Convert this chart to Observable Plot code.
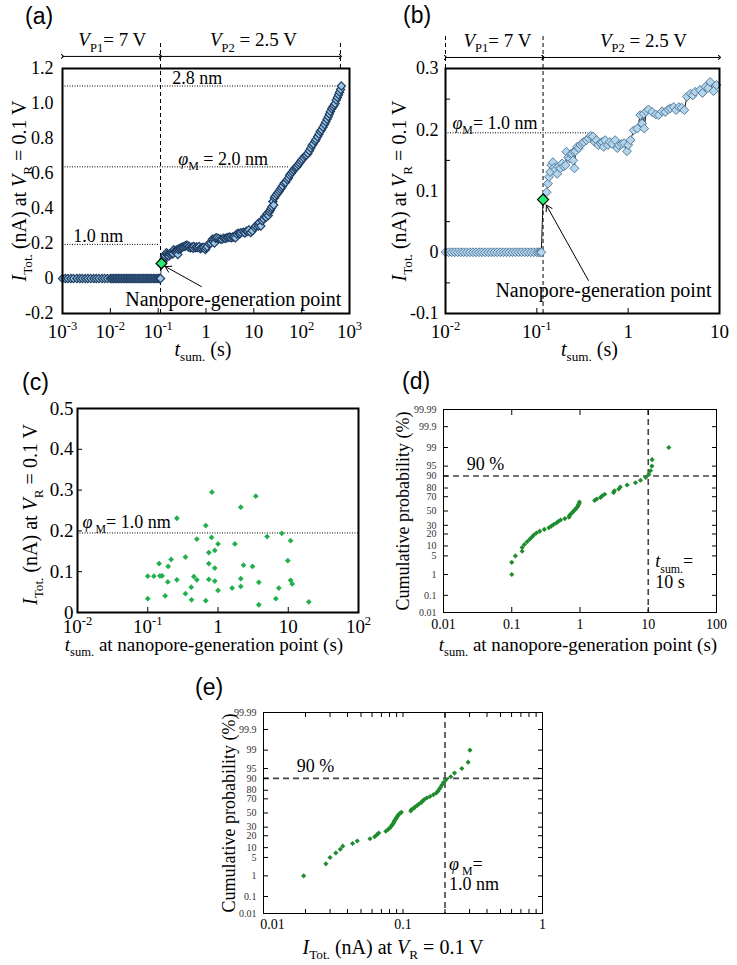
<!DOCTYPE html>
<html><head><meta charset="utf-8">
<script src="https://cdn.jsdelivr.net/npm/d3@7"></script>
<script src="https://cdn.jsdelivr.net/npm/@observablehq/plot@0.6"></script>
<style>
body{margin:0;background:#fff;}
#fig{position:relative;width:737px;height:965px;overflow:hidden;background:#fff;}
.panel{position:absolute;}
.panel svg{overflow:visible;}
.panel svg text{font-family:"Liberation Serif","Times New Roman",serif !important;}
.plabel{position:absolute;font-family:"Liberation Sans",Arial,sans-serif;font-size:23px;line-height:1;color:#000;}
</style></head><body><div id="fig"></div>
<script>
const SERIF = '"Liberation Serif","Times New Roman",serif';

// ---------- (a)/(b): time series of I_Tot. vs t_sum. ----------
const zeroTimes = [0.001,0.00115,0.0013,0.0015,0.0017,0.002,0.0023,0.0026,0.003,0.0034,0.0039,0.0045,0.0051,0.0058,0.0067,0.0076,0.0087,
  0.0100,0.0108,0.0117,0.0126,0.0136,0.0147,0.0158,0.0171,0.0185,0.0200,0.0216,0.0233,0.0251,0.0271,0.0293,0.0316,0.0341,0.0368,0.0398,
  0.0430,0.0464,0.0501,0.0541,0.0584,0.0631,0.0681,0.0736,0.0794,0.0858,0.0926,0.1000,0.1050,0.1090,0.1120];
const genTime = 0.117;
const genCurrent = 0.086;
const riseTimes = [0.128,0.132,0.136,0.14,0.145,0.15,0.155,0.16,0.167,0.173,0.181,0.189,0.197,0.206,0.211,0.22,0.229,0.236,0.243,0.25,
  0.254,0.258,0.265,0.276,0.288,0.30,0.313,0.326,0.35,0.37,0.39,0.413,0.43,0.45,0.47,0.5,0.52,0.54,0.56,0.6,0.63,0.667,0.72,0.76,0.79,
  0.85,0.9,0.97,1.0,1.06,1.15,1.26,1.36,1.42,1.48,1.5,1.58,1.67,1.83,2.0,2.16,2.35,2.55,2.75,2.9,3.15,3.35,3.6,3.85,4.12,4.4,4.8,5.1,
  5.4,6.1,6.5,7.0,7.5,7.9,8.6,9.3];
const riseCurrents = [0.098,0.112,0.123,0.131,0.142,0.147,0.138,0.135,0.128,0.14,0.137,0.145,0.14,0.142,0.164,0.155,0.153,0.16,0.161,0.15,
  0.164,0.137,0.165,0.172,0.17,0.175,0.178,0.18,0.183,0.186,0.19,0.189,0.18,0.183,0.175,0.178,0.18,0.172,0.183,0.175,0.18,0.177,0.183,0.17,0.175,
  0.177,0.178,0.165,0.175,0.183,0.199,0.202,0.224,0.21,0.226,0.202,0.23,0.233,0.229,0.225,0.224,0.23,0.229,0.233,0.235,0.237,0.232,0.237,0.236,0.232,0.254,0.259,0.256,
  0.262,0.265,0.26,0.27,0.268,0.278,0.263,0.273];
const lateTimes = [10.5,11,12,12.5,13,14,15,16,17,18,19,20,21,22,23,24,25,26,27,28,30,32,34,36,38,40,43,46,50,53,56,60,64,68,72,
  76,80,85,90,96,102,110,118,126,135,145,155,165,175,190,200,215,230,245,260,280,300,320,340,360,380,400,425,450,475,500,530,560,590,620,650,675];
const lateCurrents = [0.29,0.30,0.31,0.30,0.32,0.30,0.33,0.34,0.355,0.35,0.37,0.36,0.38,0.39,0.40,0.41,0.44,0.42,0.46,0.47,0.48,0.49,0.50,0.51,0.52,
  0.53,0.545,0.55,0.565,0.575,0.59,0.60,0.61,0.62,0.63,0.635,0.64,0.65,0.66,0.67,0.68,0.69,0.70,0.705,0.715,0.73,0.745,0.76,0.77,0.785,0.795,
  0.81,0.825,0.84,0.85,0.865,0.88,0.895,0.91,0.925,0.94,0.955,0.97,0.98,0.99,1.0,1.02,1.035,1.05,1.065,1.08,1.10];

// pore-diameter guide levels
const aGuideLevels = [0.195, 0.638, 1.1];
const aGuideEnds = [0.11, 55, 646];
const aGuideLabels = ["1.0 nm", "*φ*_{M} = 2.0 nm", "2.8 nm"];
const aGuideLabelX = [0.00168, 0.263, 0.197];
const phaseLabels = ["*V*_{P1}= 7 V", "*V*_{P2} = 2.5 V"];

const aXTicks = [1e-3, 1e-2, 1e-1, 1, 10, 100, 1000];
const aXLabels = ["10^{-3}", "10^{-2}", "10^{-1}", "1", "10", "10^{2}", "10^{3}"];
const aYTicks = [-0.2, 0, 0.2, 0.4, 0.6, 0.8, 1.0, 1.2];
const aYLabels = ["-0.2", "0", "0.2", "0.4", "0.6", "0.8", "1.0", "1.2"];
const bXTicks = [0.01, 0.1, 1, 10];
const bXLabels = ["10^{-2}", "10^{-1}", "1", "10"];
const bYTicks = [-0.1, 0, 0.1, 0.2, 0.3];
const bYLabels = ["-0.1", "0", "0.1", "0.2", "0.3"];
const bYMinor = [-0.05, 0.05, 0.15, 0.25];

// ---------- (c): scatter at nanopore-generation point ----------
const cTimes = [0.1,0.1,0.122,0.149,0.16,0.145,0.195,0.215,0.193,0.177,0.26,0.26,0.344,0.344,0.416,0.453,0.5,0.42,0.5,0.67,0.67,0.82,0.81,0.74,0.74,
  0.74,0.9,0.9,0.9,1.0,1.0,1.59,1.74,2.11,2.11,2.11,2.31,3.1,3.45,3.81,3.81,5.0,7.35,6.66,8.1,9.86,10.8,10.8,11.4,19.6];
const cCurrents = [0.034,0.089,0.089,0.09,0.09,0.12,0.113,0.13,0.075,0.041,0.08,0.231,0.136,0.046,0.062,0.088,0.08,0.031,0.18,0.213,0.029,0.295,0.184,0.147,0.12,
  0.081,0.152,0.109,0.077,0.168,0.054,0.06,0.168,0.258,0.083,0.064,0.116,0.113,0.285,0.074,0.019,0.186,0.06,0.034,0.194,0.127,0.176,0.079,0.07,0.026];
const cXTicks = [0.01, 0.1, 1, 10, 100];
const cXLabels = ["10^{-2}", "10^{-1}", "1", "10", "10^{2}"];
const cYTicks = [0, 0.1, 0.2, 0.3, 0.4, 0.5];
const cYLabels = ["0", "0.1", "0.2", "0.3", "0.4", "0.5"];

// ---------- (d)/(e): cumulative probability plots ----------
const rankProbs = [1,3,5,7,9,11,13,15,17,19,21,23,25,27,29,31,33,35,37,39,41,43,45,47,49,51,53,55,57,59,61,63,65,67,69,71,73,75,77,79,81,83,85,87,89,91,93,95,97,99];
const dTimes = [0.1,0.1,0.113,0.142,0.142,0.153,0.168,0.183,0.198,0.21,0.23,0.257,0.3,0.35,0.38,0.41,0.45,0.48,0.52,0.6,0.69,0.7,0.72,0.76,0.79,
  0.83,0.86,0.9,0.93,0.95,0.97,0.98,1.64,1.76,2.0,2.1,2.3,3.1,3.2,3.7,3.9,4.9,6.5,7.7,9.2,10.2,10.8,11.3,11.4,20];
const eCurrents = [0.0194,0.028,0.030,0.033,0.0355,0.037,0.0435,0.047,0.058,0.0626,0.065,0.067,0.0753,0.0781,0.0805,0.082,0.0837,0.085,0.0862,0.087,
  0.0885,0.0899,0.091,0.0925,0.0944,0.0974,0.1137,0.115,0.1196,0.122,0.1266,0.13,0.135,0.138,0.142,0.148,0.156,0.165,0.173,0.178,
  0.182,0.186,0.19,0.195,0.203,0.22,0.234,0.264,0.293,0.302];
const probTicks = [0.01, 0.1, 1, 5, 10, 20, 30, 50, 70, 80, 90, 95, 99, 99.9, 99.99];
const probLabels = ["0.01", "0.1", "1", "5", "10", "20", "30", "50", "70", "80", "90", "95", "99", "99.9", "99.99"];
const dXTicks = [0.01, 0.1, 1, 10, 100];
const dXLabels = ["0.01", "0.1", "1", "10", "100"];
const eXTicks = [0.01, 0.1, 1];
const eXLabels = ["0.01", "0.1", "1"];
const eXMinor = [0.02,0.03,0.04,0.05,0.06,0.07,0.08,0.09,0.2,0.3,0.4,0.5,0.6,0.7,0.8,0.9];

// ---------- helpers ----------
function probit(p) {
  const a=[-3.969683028665376e+01,2.209460984245205e+02,-2.759285104469687e+02,1.383577518672690e+02,-3.066479806614716e+01,2.506628277459239e+00];
  const b=[-5.447609879822406e+01,1.615858368580409e+02,-1.556989798598866e+02,6.680131188771972e+01,-1.328068155288572e+01];
  const c=[-7.784894002430293e-03,-3.223964580411365e-01,-2.400758277161838e+00,-2.549671010229236e+00,4.374664141464968e+00,2.938163982698783e+00];
  const d=[7.784695709041462e-03,3.224671290700398e-01,2.445134137142996e+00,3.754408661907416e+00];
  const pl = 0.02425;
  let q, r;
  if (p < pl) { q = Math.sqrt(-2*Math.log(p)); return (((((c[0]*q+c[1])*q+c[2])*q+c[3])*q+c[4])*q+c[5])/((((d[0]*q+d[1])*q+d[2])*q+d[3])*q+1); }
  if (p <= 1 - pl) { q = p - 0.5; r = q*q; return (((((a[0]*r+a[1])*r+a[2])*r+a[3])*r+a[4])*r+a[5])*q/(((((b[0]*r+b[1])*r+b[2])*r+b[3])*r+b[4])*r+1); }
  q = Math.sqrt(-2*Math.log(1-p)); return -(((((c[0]*q+c[1])*q+c[2])*q+c[3])*q+c[4])*q+c[5])/((((d[0]*q+d[1])*q+d[2])*q+d[3])*q+1);
}
const pz = v => probit(v / 100);
const fmt = (ticks, labels) => { const m = new Map(ticks.map((t, i) => [t, labels[i]])); return d => m.get(d) ?? ""; };

function richify(svg) {
  svg.querySelectorAll("text").forEach(t => {
    const s = t.textContent;
    if (!/[*_^]/.test(s)) return;
    const fs = parseFloat(getComputedStyle(t).fontSize) || 16;
    const segs = [];
    let buf = "", italic = false, i = 0;
    const flush = () => { if (buf) { segs.push({text: buf, italic, mode: 0}); buf = ""; } };
    while (i < s.length) {
      const ch = s[i];
      if (ch === "*") { flush(); italic = !italic; i++; }
      else if ((ch === "_" || ch === "^") && s[i+1] === "{") {
        flush();
        const j = s.indexOf("}", i);
        segs.push({text: s.slice(i+2, j), italic: false, mode: ch === "_" ? 1 : -1});
        i = j + 1;
      } else { buf += ch; i++; }
    }
    flush();
    while (t.firstChild) t.removeChild(t.firstChild);
    let off = 0;
    for (const sg of segs) {
      const ts = document.createElementNS("http://www.w3.org/2000/svg", "tspan");
      const target = sg.mode === 1 ? 0.28*fs : sg.mode === -1 ? -0.42*fs : 0;
      if (target !== off) ts.setAttribute("dy", (target - off).toFixed(2));
      off = target;
      if (sg.mode) ts.setAttribute("font-size", (0.66*fs).toFixed(2));
      if (sg.italic) ts.setAttribute("font-style", "italic");
      ts.textContent = sg.text;
      t.appendChild(ts);
    }
  });
}
const fig = document.getElementById("fig");
function place(svg, left, top) {
  const div = document.createElement("div");
  div.className = "panel"; div.style.left = left + "px"; div.style.top = top + "px";
  div.appendChild(svg); fig.appendChild(div); richify(svg);
}
function panelLabel(txt, left, top) {
  const div = document.createElement("div");
  div.className = "plabel"; div.style.left = left + "px"; div.style.top = top + "px";
  div.textContent = txt; fig.appendChild(div);
}
const baseStyle = {fontFamily: SERIF, color: "#000", background: "transparent", overflow: "visible"};
const yTitle = (txt, dx, size, dy = 0) => Plot.text([txt], {frameAnchor: "left", dx, dy, rotate: -90, textAnchor: "middle", lineAnchor: "middle", text: d => d, fontSize: size});
const xTitle = (txt, dx, dy, size) => Plot.text([txt], {frameAnchor: "bottom", dx, dy, textAnchor: "middle", lineAnchor: "bottom", text: d => d, fontSize: size});

// ---------- build series ----------
const series = [
  ...zeroTimes.map(t => ({t, I: 0})),
  {t: genTime, I: genCurrent},
  ...riseTimes.map((t, i) => ({t, I: riseCurrents[i]})),
  ...lateTimes.map((t, i) => ({t, I: lateCurrents[i]}))
].sort((p, q) => p.t - q.t);
const gen = [{t: genTime, I: genCurrent}];
const aGuides = aGuideLevels.map((y, i) => ({y, end: aGuideEnds[i], label: aGuideLabels[i], lx: aGuideLabelX[i]}));

// ---------- (a) ----------
const plotA = Plot.plot({
  width: 370, height: 362, marginLeft: 62, marginRight: 21, marginTop: 68, marginBottom: 49,
  style: baseStyle,
  x: {type: "log", domain: [1e-3, 1e3]},
  y: {type: "linear", domain: [-0.2, 1.2]},
  marks: [
    Plot.ruleY(aGuides, {y: "y", x1: 1e-3, x2: "end", stroke: "#000", strokeWidth: 1, strokeDasharray: "1,1.5"}),
    Plot.text(aGuides, {x: "lx", y: "y", text: "label", textAnchor: "start", lineAnchor: "bottom", dy: -2, fontSize: 18}),
    Plot.ruleX([{x: 0.112, y1: -0.2, y2: 1.349}, {x: 646, y1: 1.2, y2: 1.349}], {x: "x", y1: "y1", y2: "y2", stroke: "#000", strokeWidth: 1, strokeDasharray: "4,3"}),
    Plot.link([{x1: 0.001, x2: 0.112}, {x1: 0.112, x2: 646}], {x1: "x1", x2: "x2", y1: 1.269, y2: 1.269, stroke: "#000", strokeWidth: 1, markerStart: "arrow", markerEnd: "arrow"}),
    Plot.text(phaseLabels, {x: (d, i) => [0.011, 9.8][i], y: 1.326, text: d => d, lineAnchor: "bottom", fontSize: 19}),
    Plot.line(series, {x: "t", y: "I", stroke: "#111", strokeWidth: 0.8}),
    Plot.dot(series.filter(d => d.t !== genTime), {x: "t", y: "I", symbol: "diamond2", r: 3.7, fill: "#9fc8e6", stroke: "#1f3d63", strokeWidth: 1.2}),
    Plot.dot(gen, {x: "t", y: "I", symbol: "diamond2", r: 4.8, fill: "#24ee74", stroke: "#000", strokeWidth: 1.2}),
    Plot.arrow([{x1: 0.8, y1: -0.046, x2: 0.14, y2: 0.069}], {x1: "x1", y1: "y1", x2: "x2", y2: "y2", stroke: "#000", strokeWidth: 1, headLength: 10}),
    Plot.text(["Nanopore-generation point"], {x: 3.72, y: -0.158, text: d => d, lineAnchor: "bottom", fontSize: 20}),
    Plot.frame({stroke: "#000", strokeWidth: 2}),
    Plot.axisY({ticks: aYTicks, tickFormat: fmt(aYTicks, aYLabels), tickSize: 0, tickPadding: 9, fontSize: 18, label: null}),
    Plot.axisX({ticks: aXTicks, tickFormat: fmt(aXTicks, aXLabels), tickSize: 0, tickPadding: 11, fontSize: 19, label: null}),
    Plot.axisX({ticks: [1e-2, 1e-1, 1, 10, 100], tickSize: -5, fill: "none", label: null}),
    yTitle("*I*_{Tot.} (nA) at *V*_{R} = 0.1 V", -43, 20),
    xTitle("*t*_{sum.} (s)", -3, 42, 20)
  ]
});
place(plotA, 0, 0);

// ---------- (b) ----------
const bSeries = series.filter(d => d.t >= 0.0099 && d.t <= 10.01);
const plotB = Plot.plot({
  width: 367, height: 362, marginLeft: 75, marginRight: 18, marginTop: 68, marginBottom: 49,
  style: baseStyle,
  x: {type: "log", domain: [0.01, 10]},
  y: {type: "linear", domain: [-0.1, 0.3]},
  marks: [
    Plot.ruleY([0.195], {y: d => d, x1: 0.01, x2: 0.37, stroke: "#000", strokeWidth: 1, strokeDasharray: "1,1.5"}),
    Plot.text(["*φ*_{M}= 1.0 nm"], {x: 0.0119, y: 0.195, text: d => d, textAnchor: "start", lineAnchor: "bottom", dy: -4, fontSize: 18}),
    Plot.ruleX([{x: 0.01, y1: 0.3, y2: 0.357}, {x: 0.117, y1: -0.1, y2: 0.357}], {x: "x", y1: "y1", y2: "y2", stroke: "#000", strokeWidth: 1, strokeDasharray: "4,3"}),
    Plot.link([{x1: 0.01, x2: 0.117}, {x1: 0.117, x2: 10}], {x1: "x1", x2: "x2", y1: 0.318, y2: 0.318, stroke: "#000", strokeWidth: 1, markerStart: "arrow", markerEnd: "arrow"}),
    Plot.text(phaseLabels, {x: (d, i) => [0.037, 1.47][i], y: 0.335, text: d => d, lineAnchor: "bottom", fontSize: 19}),
    Plot.line(bSeries, {x: "t", y: "I", stroke: "#111", strokeWidth: 1}),
    Plot.dot(bSeries.filter(d => d.t !== genTime), {x: "t", y: "I", symbol: "diamond2", r: 4, fill: "#b3d6ec", stroke: "#557a9a", strokeWidth: 1}),
    Plot.dot(gen, {x: "t", y: "I", symbol: "diamond2", r: 5, fill: "#24ee74", stroke: "#000", strokeWidth: 1.2}),
    Plot.arrow([{x1: 0.367, y1: -0.046, x2: 0.127, y2: 0.077}], {x1: "x1", y1: "y1", x2: "x2", y2: "y2", stroke: "#000", strokeWidth: 1, headLength: 10}),
    Plot.text(["Nanopore-generation point"], {x: 0.536, y: -0.073, text: d => d, lineAnchor: "bottom", fontSize: 20}),
    Plot.frame({stroke: "#000", strokeWidth: 2}),
    Plot.axisY({ticks: bYTicks, tickFormat: fmt(bYTicks, bYLabels), tickSize: 0, tickPadding: 7, fontSize: 18, label: null}),
    Plot.axisY({ticks: bYMinor, tickSize: -5, fill: "none", label: null}),
    Plot.axisX({ticks: bXTicks, tickFormat: fmt(bXTicks, bXLabels), tickSize: 0, tickPadding: 11, fontSize: 19, label: null}),
    Plot.axisX({ticks: [0.1, 1], tickSize: -5, fill: "none", label: null}),
    yTitle("*I*_{Tot.} (nA) at *V*_{R} = 0.1 V", -46, 20),
    xTitle("*t*_{sum.} (s)", 7, 42, 20)
  ]
});
place(plotB, 370, 0);

// ---------- (c) ----------
const plotC = Plot.plot({
  width: 370, height: 290, marginLeft: 77, marginRight: 12, marginTop: 43, marginBottom: 43,
  style: baseStyle,
  x: {type: "log", domain: [0.01, 100]},
  y: {type: "linear", domain: [0, 0.5]},
  marks: [
    Plot.ruleY([0.195], {y: d => d, stroke: "#000", strokeWidth: 1, strokeDasharray: "1,1.5"}),
    Plot.text(["*φ*_{ M}= 1.0 nm"], {x: 0.0118, y: 0.195, text: d => d, textAnchor: "start", lineAnchor: "bottom", dy: -5, fontSize: 18}),
    Plot.dot(cTimes.map((t, i) => ({t, I: cCurrents[i]})), {x: "t", y: "I", symbol: "diamond2", r: 2.6, fill: "#22b04c", stroke: "none"}),
    Plot.frame({stroke: "#000", strokeWidth: 2}),
    Plot.axisY({ticks: cYTicks, tickFormat: fmt(cYTicks, cYLabels), tickSize: 0, tickPadding: 4, fontSize: 19, label: null}),
    Plot.axisY({ticks: [0.1, 0.2, 0.3, 0.4], tickSize: -5, fill: "none", label: null}),
    Plot.axisX({ticks: cXTicks, tickFormat: fmt(cXTicks, cXLabels), tickSize: 0, tickPadding: 7, fontSize: 19, label: null}),
    Plot.axisX({ticks: [0.1, 1, 10], tickSize: -5, fill: "none", label: null}),
    yTitle("*I*_{Tot.} (nA) at *V*_{R} = 0.1 V", -47, 20, 4),
    xTitle("*t*_{sum.} at nanopore-generation point (s)", -14, 38, 19)
  ]
});
place(plotC, 0, 365);

// ---------- (d) ----------
const probFmt = fmt(probTicks.map(pz), probLabels);
const probInner = probTicks.slice(1, -1).map(pz);
const plotD = Plot.plot({
  width: 367, height: 290, marginLeft: 73, marginRight: 21, marginTop: 44, marginBottom: 43,
  style: baseStyle,
  x: {type: "log", domain: [0.01, 100]},
  y: {type: "linear", domain: [pz(0.01), pz(99.99)]},
  marks: [
    Plot.ruleY([pz(90)], {y: d => d, stroke: "#444", strokeWidth: 1.6, strokeDasharray: "6,4"}),
    Plot.ruleX([10], {x: d => d, stroke: "#444", strokeWidth: 1.6, strokeDasharray: "6,4"}),
    Plot.dot(dTimes.map((t, i) => ({t, p: rankProbs[i]})), {x: "t", y: d => pz(d.p), symbol: "diamond2", r: 2.3, fill: "#1e8c2c", stroke: "none"}),
    Plot.text(["90 %"], {x: 0.022, y: pz(90), text: d => d, textAnchor: "start", lineAnchor: "bottom", dy: -6, fontSize: 18}),
    Plot.text(["*t*_{sum.}="], {x: 10, y: pz(1), text: d => d, textAnchor: "start", lineAnchor: "bottom", dx: 7, dy: -7, fontSize: 18}),
    Plot.text(["10 s"], {x: 10, y: pz(1), text: d => d, textAnchor: "start", lineAnchor: "bottom", dx: 7, dy: 14, fontSize: 18}),
    Plot.frame({stroke: "#000", strokeWidth: 1}),
    Plot.axisY({ticks: probTicks.map(pz), tickFormat: probFmt, tickSize: 0, tickPadding: 7, fontSize: 10, fill: "#333", label: null}),
    Plot.axisY({ticks: probInner, tickSize: -5, fill: "none", label: null}),
    Plot.axisY({anchor: "right", ticks: probInner, tickSize: -5, fill: "none", label: null}),
    Plot.axisX({ticks: dXTicks, tickFormat: fmt(dXTicks, dXLabels), tickSize: 0, tickPadding: 7, fontSize: 14, label: null}),
    Plot.axisX({ticks: [0.1, 1, 10], tickSize: -5, fill: "none", label: null}),
    Plot.axisX({anchor: "top", ticks: [0.1, 1, 10], tickSize: -5, fill: "none", label: null}),
    yTitle("Cumulative probability (%)", -40, 18),
    xTitle("*t*_{sum.} at nanopore-generation point (s)", -2, 38, 19)
  ]
});
place(plotD, 370, 365);

// ---------- (e) ----------
const plotE = Plot.plot({
  width: 370, height: 305, marginLeft: 73, marginRight: 18, marginTop: 52, marginBottom: 52,
  style: baseStyle,
  x: {type: "log", domain: [0.01, 1]},
  y: {type: "linear", domain: [pz(0.01), pz(99.99)]},
  marks: [
    Plot.ruleY([pz(90)], {y: d => d, stroke: "#444", strokeWidth: 1.6, strokeDasharray: "6,4"}),
    Plot.ruleX([0.2], {x: d => d, stroke: "#444", strokeWidth: 1.6, strokeDasharray: "6,4"}),
    Plot.dot(eCurrents.map((v, i) => ({v, p: rankProbs[i]})), {x: "v", y: d => pz(d.p), symbol: "diamond2", r: 2.3, fill: "#1e8c2c", stroke: "none"}),
    Plot.text(["90 %"], {x: 0.0173, y: pz(90), text: d => d, textAnchor: "start", lineAnchor: "bottom", dy: -6, fontSize: 18}),
    Plot.text(["*φ*_{ M}="], {x: 0.2, y: pz(1), text: d => d, textAnchor: "start", lineAnchor: "bottom", dx: 4, dy: -6, fontSize: 18}),
    Plot.text(["1.0 nm"], {x: 0.2, y: pz(1), text: d => d, textAnchor: "start", lineAnchor: "bottom", dx: 4, dy: 14, fontSize: 18}),
    Plot.frame({stroke: "#000", strokeWidth: 1}),
    Plot.axisY({ticks: probTicks.map(pz), tickFormat: probFmt, tickSize: 0, tickPadding: 7, fontSize: 10, fill: "#333", label: null}),
    Plot.axisY({ticks: probInner, tickSize: -5, fill: "none", label: null}),
    Plot.axisY({anchor: "right", ticks: probInner, tickSize: -5, fill: "none", label: null}),
    Plot.axisX({ticks: eXTicks.slice(1), tickFormat: fmt(eXTicks, eXLabels), tickSize: 0, tickPadding: 6, fontSize: 14, label: null}),
    Plot.axisX({ticks: eXTicks.slice(0, 1), tickFormat: fmt(eXTicks, eXLabels), tickSize: 0, tickPadding: 6, dx: 9, fontSize: 14, label: null}),
    Plot.axisX({ticks: eXMinor.concat([0.1]), tickSize: -4, fill: "none", label: null}),
    Plot.axisX({anchor: "top", ticks: eXMinor.concat([0.1]), tickSize: -4, fill: "none", label: null}),
    yTitle("Cumulative probability (%)", -34, 18),
    xTitle("*I*_{Tot.} (nA) at *V*_{R} = 0.1 V", -10, 40, 20)
  ]
});
place(plotE, 190, 660);

panelLabel("(a)", 25, 5);
panelLabel("(b)", 403, 4);
panelLabel("(c)", 22, 371);
panelLabel("(d)", 402, 370);
panelLabel("(e)", 195, 676);
</script></body></html>
